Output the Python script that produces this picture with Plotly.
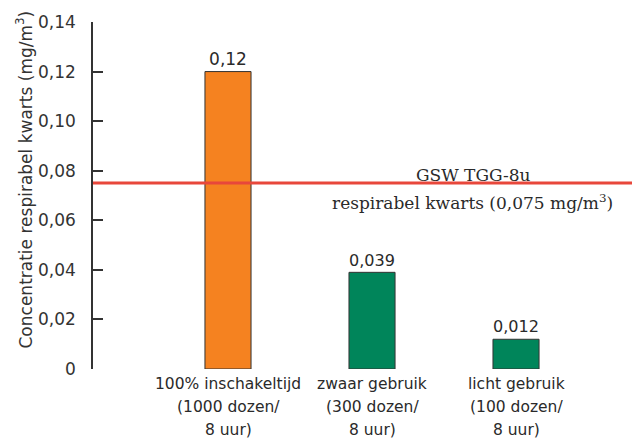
import plotly.graph_objects as go

cat_lines = [["100% inschakeltijd", "(1000 dozen/", "8 uur)"],
             ["zwaar gebruik", "(300 dozen/", "8 uur)"],
             ["licht gebruik", "(100 dozen/", "8 uur)"]]
values = [0.12, 0.039, 0.012]
value_labels = ["0,12", "0,039", "0,012"]
bar_colors = ["#F58220", "#00855A", "#00855A"]
threshold = 0.075
y_tickvals = [0, 0.02, 0.04, 0.06, 0.08, 0.10, 0.12, 0.14]
y_ticktext = ["0", "0,02", "0,04", "0,06", "0,08", "0,10", "0,12", "0,14"]

sans = "DejaVu Sans, sans-serif"
serif = "DejaVu Serif, serif"
txt = "#2a2a2a"

xs = list(range(len(values)))

fig = go.Figure()
fig.add_trace(go.Bar(
    x=xs, y=values,
    marker=dict(color=bar_colors, line=dict(color="#333333", width=1)),
    width=0.32,
    text=value_labels, textposition="outside", cliponaxis=False,
    textfont=dict(family=sans, size=17, color=txt),
    hoverinfo="skip",
))

fig.add_shape(type="line", xref="paper", yref="y", x0=0, x1=1,
              y0=threshold, y1=threshold,
              line=dict(color="#E8473B", width=3))

fig.add_annotation(x=1.70, y=0.0783, xref="x", yref="y", text="GSW TGG-8u",
                   showarrow=False, font=dict(family=serif, size=17, color=txt))
fig.add_annotation(x=1.70, y=0.0672, xref="x", yref="y",
                   text="respirabel kwarts (0,075 mg/m<sup>3</sup>)",
                   showarrow=False, font=dict(family=serif, size=17, color=txt))

# category labels, three lines each
for xi, lines in zip(xs, cat_lines):
    for li, line in enumerate(lines):
        fig.add_annotation(x=xi, y=0, xref="x", yref="paper", text=line,
                           showarrow=False, yanchor="middle",
                           yshift=-15 - 23 * li,
                           font=dict(family=sans, size=15.5, color=txt))

# y-axis title
fig.add_annotation(x=0, y=0.5, xref="paper", yref="paper",
                   text="Concentratie respirabel kwarts (mg/m<sup>3</sup>)",
                   textangle=-90, showarrow=False, xanchor="center",
                   yanchor="middle", xshift=-69, yshift=16,
                   font=dict(family=sans, size=17, color="#333333"))

# page body has an 8px margin; shrink figure so the plot lands at the same pixels
fig.update_layout(
    width=632, height=431,
    margin=dict(l=85, r=0, t=14, b=70),
    plot_bgcolor="white", paper_bgcolor="white",
    showlegend=False,
    font=dict(family=sans, color="#333333"),
    xaxis=dict(
        range=[-0.9375, 2.861],
        showticklabels=False,
        showline=False, showgrid=False, zeroline=False, ticks="",
        automargin=False,
    ),
    yaxis=dict(
        range=[0, 0.14],
        tickvals=y_tickvals, ticktext=y_ticktext,
        showline=True, linecolor="#333333", linewidth=1.5,
        ticks="inside", ticklen=10, tickcolor="#333333", tickwidth=1.5,
        ticklabelstandoff=12,
        showgrid=False, zeroline=False, automargin=False,
        tickfont=dict(family=sans, size=17, color="#333333"),
    ),
)

fig.write_html("out.html")
